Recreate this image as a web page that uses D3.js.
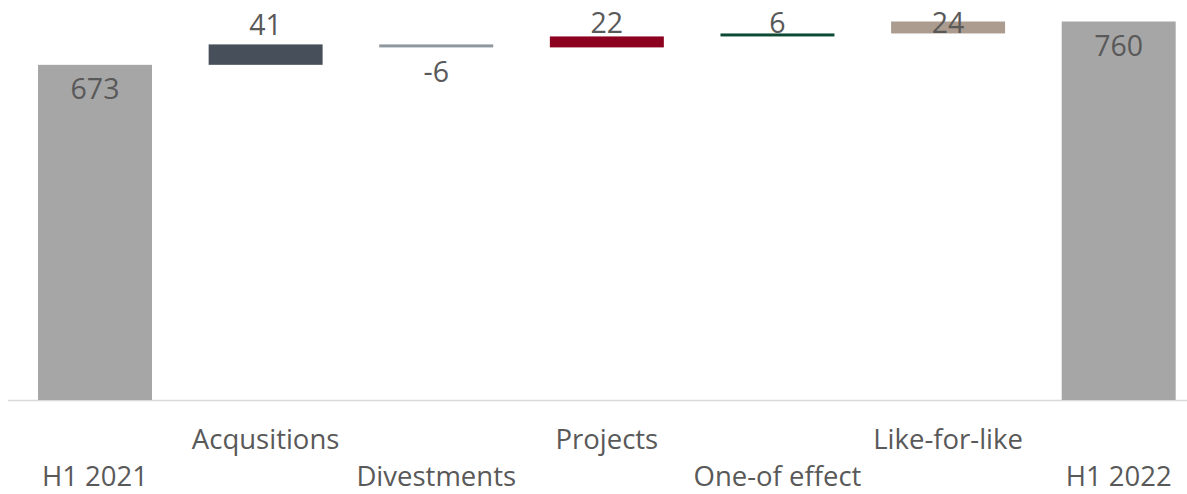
<!DOCTYPE html>
<html>
<head>
<meta charset="utf-8">
<script src="https://cdn.jsdelivr.net/npm/d3@7"></script>
<style>
  body { margin: 0; background: #fff; }
  svg text { font-family: "Segoe UI", "Open Sans", sans-serif; fill: #595959; }
</style>
</head>
<body>
<div id="chart"></div>
<script>
// chart data
var categories = ["H1 2021", "Acqusitions", "Divestments", "Projects", "One-of effect", "Like-for-like", "H1 2022"];
var values = [673, 41, -6, 22, 6, 24, 760];
var isTotal = [true, false, false, false, false, false, true];
var colors = ["#a6a6a6", "#47505a", "#8f979f", "#8c0020", "#0d4a33", "#ac9c8f", "#a6a6a6"];

function init() {
    var w = 1187, h = 494;
    var baseY = 400;

    // running totals for the floating bars
    var running = 0;
    var data = categories.map(function(c, i) {
        var start, end;
        if (isTotal[i]) { start = 0; end = values[i]; running = values[i]; }
        else { start = running; end = running + values[i]; running = end; }
        return { name: c, value: values[i], start: start, end: end, total: isTotal[i], color: colors[i], i: i };
    });

    var svg = d3.select("#chart").append("svg")
        .attr("width", w)
        .attr("height", h);

    var xScale = d3.scaleBand().domain(categories).range([9.7, 1204]).paddingInner(0.332).paddingOuter(0.166);
    var yScale = d3.scaleLinear().domain([0, 760]).range([baseY, 21.5]);

    // axis line
    svg.append("line")
        .attr("x1", 8).attr("x2", w)
        .attr("y1", baseY + 0.5).attr("y2", baseY + 0.5)
        .attr("stroke", "#d9d9d9").attr("stroke-width", 1.5);

    svg.selectAll(".bar")
        .data(data)
        .enter()
        .append("rect")
        .attr("class", "bar")
        .attr("x", d => xScale(d.name))
        .attr("width", xScale.bandwidth())
        .attr("y", d => yScale(Math.max(d.start, d.end)))
        .attr("height", d => Math.max(2, Math.abs(yScale(d.start) - yScale(d.end))))
        .attr("fill", d => d.color);

    // value labels
    svg.selectAll(".val")
        .data(data)
        .enter()
        .append("text")
        .attr("class", "val")
        .attr("text-anchor", "middle")
        .attr("font-size", 28.5)
        .attr("x", d => xScale(d.name) + xScale.bandwidth() / 2)
        .attr("y", function(d) {
            if (d.total) return yScale(d.end) + 34;
            if (d.value < 0) return yScale(d.end) + 35;
            return Math.max(yScale(d.end) - 9, 33);
        })
        .text(d => d.value);

    // category labels, staggered in two rows
    svg.selectAll(".cat")
        .data(data)
        .enter()
        .append("text")
        .attr("class", "cat")
        .attr("text-anchor", "middle")
        .attr("font-size", 27.5)
        .attr("x", d => xScale(d.name) + xScale.bandwidth() / 2)
        .attr("y", d => d.i % 2 === 1 ? 449 : 486)
        .text(d => d.name);
}

window.onload = init;
</script>
</body>
</html>
